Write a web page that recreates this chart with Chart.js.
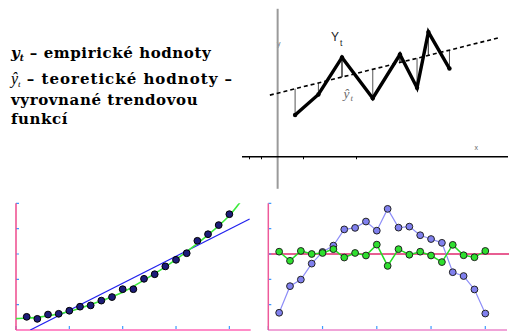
<!DOCTYPE html>
<html>
<head>
<meta charset="utf-8">
<script src="https://cdn.jsdelivr.net/npm/chart.js@4.4.1/dist/chart.umd.min.js"></script>
<style>
  html, body { margin: 0; padding: 0; background: #fff; }
  #page { position: relative; width: 512px; height: 335px; overflow: hidden; }
  .line { position: absolute; left: 11px; font-family: 'DejaVu Serif', serif; font-weight: bold;
          font-size: 15px; letter-spacing: 0.6px; line-height: 16px; white-space: nowrap; color: #000; }
  .yy { font-style: italic; letter-spacing: 0; }
  .sub { font-size: 9px; font-style: italic; position: relative; top: 3px; letter-spacing: 0; }
  .hat { font-family: 'Liberation Serif', serif; font-weight: normal; font-style: italic; font-size: 16px; letter-spacing: 0; }
  .hat .sub { font-weight: normal; }
  .lbl { position: absolute; line-height: 1; white-space: nowrap; }
  canvas { position: absolute; }
</style>
</head>
<body>
<div id="page">
  <div class="line" style="top:44.5px"><span class="yy">y</span><span class="sub">t</span> – empirické hodnoty</div>
  <div class="line" style="top:70.5px;letter-spacing:1px"><span class="hat">ŷ<span class="sub">t</span></span> – teoretické hodnoty –</div>
  <div class="line" style="top:91.5px">vyrovnané trendovou</div>
  <div class="line" style="top:110.5px">funkcí</div>

  <span class="lbl" style="left:277px;top:39.6px;font:7px 'Liberation Sans';color:#666">y</span>
  <span class="lbl" style="left:474.5px;top:144px;font:7px 'Liberation Sans';color:#666">x</span>
  <span class="lbl" style="left:331px;top:29.5px;font:12px 'Liberation Sans';color:#222">Y</span>
  <span class="lbl" style="left:340px;top:37.5px;font:8.5px 'Liberation Sans';color:#222">t</span>
  <span class="lbl" style="left:343.5px;top:86px;font:italic 13.5px 'Liberation Serif';color:#6a6a6a">ŷ</span>
  <span class="lbl" style="left:350.5px;top:92.5px;font:italic 9px 'Liberation Serif';color:#6a6a6a">t</span>

  <canvas id="trendChart" width="274" height="195" style="left:238px;top:0"></canvas>
  <canvas id="levelChart" width="256" height="140" style="left:0;top:195px"></canvas>
  <canvas id="residChart" width="256" height="140" style="left:256px;top:195px"></canvas>
</div>

<script>
// zigzag series with its linear trend (top right)
var obsT = [1.80, 4.20, 6.63, 9.80, 12.60, 14.36, 15.53, 17.70];
var obsY = [4.36, 6.50, 10.36, 6.10, 10.66, 7.20, 13.00, 9.20];
var trendAtObs = [7.09, 7.70, 8.31, 9.12, 9.83, 10.27, 10.57, 11.12];
var trendLineX = [-0.80, 22.86];
var trendLineY = [6.43, 12.43];
var trendTicks = [-2.9, -1.74, 2.6, 8.1];

// growing series, curved fit and straight line fit (bottom left)
var periods = [1, 2, 3, 4, 5, 6, 7, 8, 9, 10, 11, 12, 13, 14, 15, 16, 17, 18, 19, 20];
var levels = [0.52, 0.44, 0.61, 0.64, 0.76, 0.92, 0.97, 1.16, 1.30, 1.61,
              1.61, 2.02, 2.20, 2.51, 2.77, 3.03, 3.52, 3.78, 4.14, 4.57];
var curveX = [0, 2, 4, 6, 8, 10, 12, 14, 16, 18, 20, 21];
var curveY = [0.45, 0.50, 0.63, 0.86, 1.15, 1.49, 1.97, 2.49, 3.09, 3.75, 4.52, 5.03];
var lineX = [1.34, 21.9];
var lineY = [0, 4.38];

// residuals of both fits (bottom right)
var residLinear = [-2.32, -1.27, -1.01, -0.38, 0.08, 0.33, 0.97, 1.03, 1.28, 0.92,
                   1.78, 1.04, 1.08, 0.74, 0.59, 0.44, -0.72, -0.87, -1.40, -2.35];
var residCurve = [0.09, -0.27, 0.12, 0.00, 0.04, 0.19, -0.14, 0.04, -0.06, 0.37,
                  -0.47, 0.19, -0.03, 0.09, -0.06, -0.32, 0.36, -0.05, -0.13, 0.12];

var xTicks = [0, 5, 10, 15, 20];
var yTicksLevel = [0, 1, 2, 3, 4, 5];
var yTicksResid = [-3, -2, -1, 0, 1, 2];

function pts(xs, ys) {
    let out = [];
    for (var i = 0; i < xs.length; i++)
        out.push({ x: xs[i], y: ys[i] });
    return out;
}

// axes crossing at zero, grey y axis, black x axis
var crossAxes = {
    id: 'crossAxes',
    beforeDatasetsDraw: function (chart, args, o) {
        let ctx = chart.ctx, a = chart.chartArea, x = chart.scales.x, y = chart.scales.y;
        let x0 = x.getPixelForValue(0), y0 = y.getPixelForValue(0);
        ctx.save();
        ctx.strokeStyle = '#9a9a9a';
        ctx.lineWidth = 2;
        ctx.beginPath();
        ctx.moveTo(x0, y.getPixelForValue(o.yTop));
        ctx.lineTo(x0, y.getPixelForValue(o.yBottom));
        ctx.stroke();
        ctx.strokeStyle = '#000';
        ctx.lineWidth = 1.5;
        ctx.beginPath();
        ctx.moveTo(a.left, y0);
        ctx.lineTo(a.right, y0);
        ctx.stroke();
        ctx.lineWidth = 1;
        ctx.beginPath();
        for (var i = 0; i < o.ticks.length; i++) {
            let px = Math.round(x.getPixelForValue(o.ticks[i])) + 0.5;
            ctx.moveTo(px, y0);
            ctx.lineTo(px, y0 + 2.5);
        }
        ctx.stroke();
        ctx.restore();
    }
};

// pink frame on the left and bottom with small blue ticks pointing inside
var frameAxes = {
    id: 'frameAxes',
    beforeDatasetsDraw: function (chart, args, o) {
        let ctx = chart.ctx, a = chart.chartArea, x = chart.scales.x, y = chart.scales.y;
        ctx.save();
        if (o.zeroColor) {
            let yz = y.getPixelForValue(0);
            ctx.strokeStyle = o.zeroColor;
            ctx.lineWidth = 1.5;
            ctx.beginPath();
            ctx.moveTo(a.left, yz);
            ctx.lineTo(a.right + 2, yz);
            ctx.stroke();
        }
        ctx.strokeStyle = o.tickColor;
        ctx.lineWidth = 1.2;
        ctx.beginPath();
        for (var i = 0; i < o.yTicks.length; i++) {
            let py = y.getPixelForValue(o.yTicks[i]);
            ctx.moveTo(a.left, py);
            ctx.lineTo(a.left + 3, py);
        }
        for (var j = 0; j < o.xTicks.length; j++) {
            let px = x.getPixelForValue(o.xTicks[j]);
            ctx.moveTo(px, a.bottom);
            ctx.lineTo(px, a.bottom - 4);
        }
        ctx.stroke();
        ctx.strokeStyle = o.xColor;
        ctx.lineWidth = 2;
        ctx.beginPath();
        ctx.moveTo(a.left, a.bottom);
        ctx.lineTo(a.right, a.bottom);
        ctx.stroke();
        ctx.strokeStyle = o.yColor;
        ctx.lineWidth = 1.5;
        ctx.beginPath();
        ctx.moveTo(a.left, a.top);
        ctx.lineTo(a.left, a.bottom);
        ctx.stroke();
        ctx.restore();
    }
};

function baseOptions(pad, xr, yr) {
    return {
        responsive: false,
        animation: false,
        layout: { padding: pad },
        plugins: { legend: { display: false }, tooltip: { enabled: false } },
        scales: {
            x: { type: 'linear', display: false, min: xr[0], max: xr[1] },
            y: { type: 'linear', display: false, min: yr[0], max: yr[1] }
        }
    };
}

// connectors from each observation to the trend line
var connectors = [];
for (var i = 0; i < obsT.length; i++) {
    connectors.push({ x: obsT[i], y: obsY[i] });
    connectors.push({ x: obsT[i], y: trendAtObs[i] });
    connectors.push({ x: obsT[i], y: null });
}

var trendOpts = baseOptions(0, [-3.67, 23.73], [-3.57, 15.93]);
trendOpts.plugins.crossAxes = { yTop: 15.43, yBottom: -3.34, ticks: trendTicks };
new Chart(document.getElementById('trendChart').getContext('2d'), {
    type: 'line',
    data: {
        datasets: [{
            data: pts(obsT, obsY),
            borderColor: '#000',
            borderWidth: 3.4,
            borderJoinStyle: 'miter',
            pointRadius: 2.2,
            pointBackgroundColor: '#000',
            pointBorderWidth: 0
        }, {
            data: pts(trendLineX, trendLineY),
            borderColor: '#000',
            borderWidth: 1.6,
            borderDash: [4, 3],
            pointRadius: 0
        }, {
            data: connectors,
            borderColor: '#555',
            borderWidth: 1,
            pointRadius: 0,
            spanGaps: false
        }]
    },
    options: trendOpts,
    plugins: [crossAxes]
});

var levelOpts = baseOptions({ left: 16, right: 5.3, top: 8.3, bottom: 2 }, [0, 22], [0, 5]);
levelOpts.plugins.frameAxes = { xColor: '#ff8cc8', yColor: '#ee4a8c', tickColor: '#3d9bff',
                                xTicks: xTicks, yTicks: yTicksLevel };
new Chart(document.getElementById('levelChart').getContext('2d'), {
    type: 'line',
    data: {
        datasets: [{
            data: pts(periods, levels),
            showLine: false,
            pointRadius: 3.4,
            pointBackgroundColor: '#1c1c78',
            pointBorderColor: '#000',
            pointBorderWidth: 1
        }, {
            data: pts(curveX, curveY),
            borderColor: '#3cea3c',
            borderWidth: 1.6,
            cubicInterpolationMode: 'monotone',
            pointRadius: 0
        }, {
            data: pts(lineX, lineY),
            borderColor: '#2020ee',
            borderWidth: 1.2,
            pointRadius: 0
        }]
    },
    options: levelOpts,
    plugins: [frameAxes]
});

var residOpts = baseOptions({ left: 12.3, right: 4.6, top: 8.3, bottom: 2 }, [0, 22], [-3, 2]);
residOpts.plugins.frameAxes = { xColor: '#f0a4d8', yColor: '#ee5a9a', tickColor: '#3d9bff',
                                zeroColor: '#e0286e', xTicks: xTicks, yTicks: yTicksResid };
new Chart(document.getElementById('residChart').getContext('2d'), {
    type: 'line',
    data: {
        datasets: [{
            data: pts(periods, residCurve),
            borderColor: '#22dd22',
            borderWidth: 1.5,
            pointRadius: 3.4,
            pointBackgroundColor: '#2ee02e',
            pointBorderColor: '#222',
            pointBorderWidth: 1
        }, {
            data: pts(periods, residLinear),
            borderColor: '#8e8ef8',
            borderWidth: 1.2,
            pointRadius: 3.4,
            pointBackgroundColor: '#8080ee',
            pointBorderColor: '#222',
            pointBorderWidth: 1
        }]
    },
    options: residOpts,
    plugins: [frameAxes]
});
</script>
</body>
</html>
